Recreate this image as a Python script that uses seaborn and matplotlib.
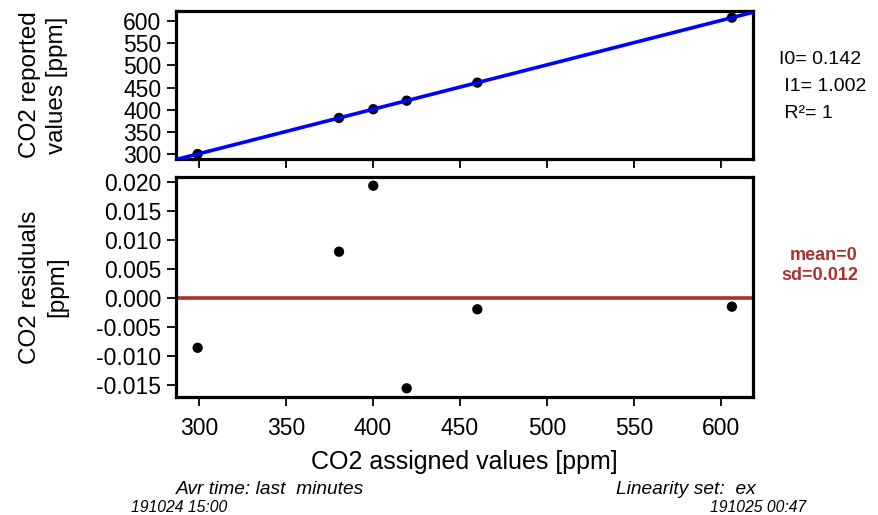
import matplotlib
matplotlib.use("Agg")
import matplotlib.pyplot as plt
import seaborn as sns
import pandas as pd

# ---- data ----
assigned = [299.25, 380.5, 400.2, 419.4, 460.0, 606.3]
reported = [299.982, 381.411, 401.062, 420.365, 461.060, 607.653]
residuals = [-0.0086, 0.0080, 0.0194, -0.0156, -0.00195, -0.0015]

x_ticks = [300, 350, 400, 450, 500, 550, 600]
top_yticks = [300, 350, 400, 450, 500, 550, 600]
bot_yticks = [-0.015, -0.010, -0.005, 0.000, 0.005, 0.010, 0.015, 0.020]
bot_yticklabels = ["-0.015", "-0.010", "-0.005", "0.000", "0.005", "0.010", "0.015", "0.020"]

fit_lines = ["I0= 0.142", " I1= 1.002", " R\u00b2= 1"]
resid_lines = ["mean=0", "sd=0.012"]
foot_left = ["Avr time: last  minutes", "191024 15:00"]
foot_right = ["Linearity set:  ex", "191025 00:47"]

df = pd.DataFrame({"assigned": assigned, "reported": reported, "residual": residuals})

sns.set_style("ticks")
plt.rcParams["font.family"] = ["Liberation Sans", "DejaVu Sans"]
for k in ("text.color", "axes.labelcolor", "xtick.color", "ytick.color", "axes.edgecolor"):
    plt.rcParams[k] = "black"

fig = plt.figure(figsize=(8.79, 5.15), dpi=100)
ax1 = fig.add_axes([0.2002, 0.6918, 0.6564, 0.2868])
ax2 = fig.add_axes([0.2002, 0.2297, 0.6564, 0.4260])

xlim = (286.8, 618.4)
for ax in (ax1, ax2):
    ax.set_xlim(*xlim)
    for s in ax.spines.values():
        s.set_visible(True)
        s.set_linewidth(2.3)
        s.set_color("black")
    ax.tick_params(axis="both", direction="out", length=6.5, width=1.3,
                   color="black", labelcolor="black", labelsize=16.5, pad=4)
    ax.tick_params(axis="x", pad=8)
    ax.set_xticks(x_ticks)

# top panel
ax1.set_ylim(289.4, 622.6)
sns.regplot(data=df, x="assigned", y="reported", ax=ax1, ci=None, truncate=False,
            color="black",
            scatter_kws=dict(s=55, color="black", edgecolors="none", alpha=1, zorder=3),
            line_kws=dict(color="#0000ff", lw=2.6, zorder=4))
ax1.set_xlim(*xlim)
ax1.set_ylim(289.4, 622.6)
ax1.set_yticks(top_yticks)
ax1.set_xticklabels([])
ax1.set_xlabel("")
ax1.set_ylabel("CO2 reported\nvalues [ppm]", fontsize=17.5, linespacing=1.3)

# bottom panel
sns.scatterplot(data=df, x="assigned", y="residual", ax=ax2, s=55, color="black",
                edgecolor="none", zorder=3)
ax2.axhline(0, color="#A83232", lw=2.6, zorder=2)
ax2.set_ylim(-0.01705, 0.02085)
ax2.set_yticks(bot_yticks)
ax2.set_yticklabels(bot_yticklabels)
ax2.set_xticklabels([str(v) for v in x_ticks], fontsize=16.5)
ax2.set_xlabel("CO2 assigned values [ppm]", fontsize=18, labelpad=7)
ax2.set_ylabel("CO2 residuals\n[ppm]", fontsize=17.5, linespacing=1.3)
ax2.set_xlim(*xlim)

# align y labels
ax1.yaxis.set_label_coords(-0.187, 0.5)
ax2.yaxis.set_label_coords(-0.187, 0.5)

# annotations
for i, t in enumerate(fit_lines):
    fig.text(779 / 879, 1 - (60 + 26.5 * i) / 515, t, ha="left", va="center", fontsize=14)
fig.text(858 / 879, 1 - 255 / 515, resid_lines[0], ha="right", va="center", fontsize=13,
         fontweight="bold", color="#A83232")
fig.text(858 / 879, 1 - 276 / 515, resid_lines[1], ha="right", va="center", fontsize=13,
         fontweight="bold", color="#A83232")

fig.text(176 / 879, 1 - 489 / 515, foot_left[0], ha="left", va="center", fontsize=13.8,
         style="italic")
fig.text(131 / 879, 1 - 507 / 515, foot_left[1], ha="left", va="center", fontsize=11.3,
         style="italic")
fig.text(756 / 879, 1 - 489 / 515, foot_right[0], ha="right", va="center", fontsize=13.8,
         style="italic")
fig.text(806 / 879, 1 - 507 / 515, foot_right[1], ha="right", va="center", fontsize=11.3,
         style="italic")

fig.savefig("out.png", dpi=100, facecolor="white")
